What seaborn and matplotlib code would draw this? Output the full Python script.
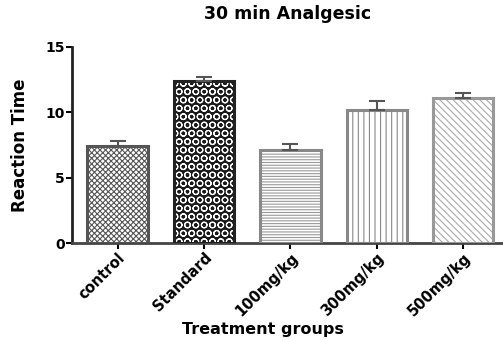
import numpy as np
import pandas as pd
import seaborn as sns
import matplotlib.pyplot as plt
from matplotlib.patches import Rectangle

# Valores
groups = ['control', 'Standard', '100mg/kg', '300mg/kg', '500mg/kg']
reaction_time = [7.4, 12.4, 7.1, 10.2, 11.1]
sem = [0.4, 0.3, 0.5, 0.7, 0.4]

df = pd.DataFrame({'group': groups, 'time': reaction_time})

sns.set_style("ticks")
plt.rcParams['font.family'] = ['DejaVu Sans']
plt.rcParams['hatch.linewidth'] = 0.8
plt.rcParams['text.color'] = 'black'
plt.rcParams['xtick.color'] = 'black'
plt.rcParams['ytick.color'] = 'black'
plt.rcParams['axes.labelcolor'] = 'black'
narrow = ['Liberation Sans Narrow', 'DejaVu Sans']

fig = plt.figure(figsize=(5.03, 3.4), dpi=100)
ax = fig.add_axes([0.143, 0.285, 0.857, 0.577])

sns.barplot(data=df, x='group', y='time', errorbar=None, width=0.7,
            color='white', ax=ax)

# Estilos de relleno por barra
styles = [
    dict(face='white', hatch='xxxxxx', hcol='#555555', edge='#555555'),
    dict(face='#1a1a1a', hatch='OO', hcol='white', edge='#222222'),
    dict(face='white', hatch='------', hcol='#999999', edge='#888888'),
    dict(face='white', hatch='|||', hcol='#888888', edge='#888888'),
    dict(face='white', hatch='\\\\\\\\\\', hcol='#aaaaaa', edge='#999999'),
]
for patch, st in zip(ax.patches, styles):
    patch.set_facecolor(st['face'])
    patch.set_hatch(st['hatch'])
    patch.set_edgecolor(st['hcol'])
    patch.set_linewidth(0)
    ax.add_patch(Rectangle(patch.get_xy(), patch.get_width(), patch.get_height(),
                           fill=False, edgecolor=st['edge'], linewidth=2.2, zorder=3))

# Barras de error (solo hacia arriba)
xs = np.arange(len(groups))
ax.errorbar(xs, reaction_time, yerr=[np.zeros(len(sem)), sem], fmt='none',
            ecolor='#555555', elinewidth=1.5, capsize=6, capthick=1.5, zorder=4)

ax.set_ylim(0, 15)
ax.set_xlim(-0.53, 4.46)
ax.set_yticks([0, 5, 10, 15])
ax.tick_params(axis='y', labelsize=10, width=1.5, length=4, pad=1)
ax.tick_params(axis='x', width=1.5, length=4, pad=1)
for lab in ax.get_yticklabels():
    lab.set_fontweight('bold')
plt.setp(ax.get_xticklabels(), rotation=45, ha='right', rotation_mode='anchor',
         fontweight='bold', fontsize=10.5, family=narrow)

sns.despine(ax=ax)
ax.spines['left'].set_linewidth(2)
ax.spines['left'].set_color('#222222')
ax.spines['bottom'].set_linewidth(2)
ax.spines['bottom'].set_color('#444444')

ax.set_title('30 min Analgesic', fontsize=12.5, fontweight='heavy', pad=20)
ax.set_ylabel('Reaction Time', fontsize=12, fontweight='bold',
              family=narrow, labelpad=12)
ax.set_xlabel('Treatment groups', fontsize=11.5, fontweight='bold')
ax.xaxis.set_label_coords(0.443, -0.40)

fig.savefig('out.png', dpi=100)
